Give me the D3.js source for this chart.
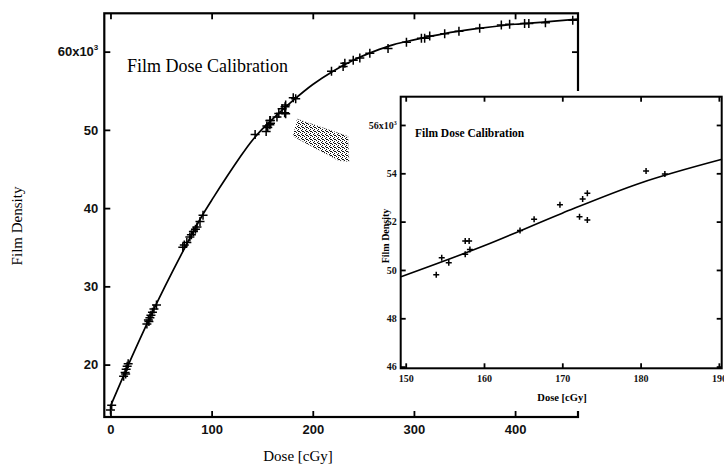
<!DOCTYPE html>
<html>
<head>
<meta charset="utf-8">
<script src="https://cdn.jsdelivr.net/npm/d3@7"></script>
<style>
  body { margin: 0; background: #fff; }
  svg  { display: block; }
</style>
</head>
<body>
<div id="chart"></div>
<script>

var doseValues = [0, 1.2,
                  13, 14.5, 15.5, 16.5, 17.5, 15,
                  36, 37.5, 38, 39, 40, 41.5, 43, 45.5,
                  71.5, 73, 75.5, 78.5, 80, 82, 84, 85.5, 88.5, 91.5,
                  143, 153.9, 154.6, 155.5, 157.6, 157.6, 158.1, 158.2, 164.6, 166.4,
                  169.7, 172.2, 173.2, 172.6, 173.2, 180.7, 183.1,
                  218.5, 230, 231.7, 240, 246.5, 256.4, 274.4, 292.6, 307.4, 310.6,
                  315.6, 330.4, 344.5, 365, 386.4, 394.6, 409.4, 413.6, 430, 457];
var densityValues = [14.2, 14.8,
                     18.5, 19.0, 19.4, 19.8, 20.1, 18.8,
                     25.2, 25.7, 25.5, 26.0, 26.3, 26.7, 27.1, 27.6,
                     35.0, 35.3, 35.6, 36.3, 36.6, 37.0, 37.3, 37.6, 38.3, 39.1,
                     49.4, 49.8, 50.5, 50.3, 50.65, 51.2, 51.2, 50.85, 51.63, 52.1,
                     52.7, 52.2, 52.07, 52.94, 53.17, 54.1, 53.97,
                     57.5, 58.1, 58.5, 58.9, 59.2, 59.8, 60.4, 61.2, 61.7, 61.7,
                     62.0, 62.3, 62.6, 63.0, 63.4, 63.5, 63.6, 63.6, 63.7, 64.0];

// Calibration curve, knots
var fitDose    = [0, 15, 40, 75, 90, 102, 115, 128, 138, 150, 160, 170, 180, 200,
                  220, 240, 260, 280, 300, 330, 360, 400, 430, 462];
var fitDensity = [14.7, 19.2, 26.3, 35.3, 38.9, 41.4, 44.0, 46.5, 48.3, 50.1, 51.35, 52.55, 53.7, 55.8,
                  57.5, 58.9, 60.0, 60.9, 61.5, 62.3, 62.9, 63.5, 63.8, 64.15];

// Inset: close up of 150-190 cGy
var insetDose    = [153.9, 154.6, 155.5, 157.6, 157.6, 158.1, 158.2, 164.6, 166.4,
                    169.7, 172.2, 173.2, 172.6, 173.2, 180.7, 183.1];
var insetDensity = [49.8, 50.5, 50.3, 50.65, 51.2, 51.2, 50.85, 51.63, 52.1,
                    52.7, 52.2, 52.07, 52.94, 53.17, 54.1, 53.97];
var insetFitDose    = [149.4, 160, 170, 180, 190.4];
var insetFitDensity = [49.72, 51.0, 52.35, 53.6, 54.58];

// Tick values
var xTicks      = [0, 100, 200, 300, 400];
var yTicks      = [20, 30, 40, 50, 60];
var insetXTicks = [150, 160, 170, 180, 190];
var insetYTicks = [46, 48, 50, 52, 54, 56];

// Grey dithered arrow pointing at the inset, in main-chart data units
var arrowDose    = [184.4, 234.8, 235.8, 225, 180.4];
var arrowDensity = [51.38, 49.2, 45.95, 46.1, 49.2];

var width  = 724,
    height = 465;

var svg = d3.select("#chart")
  .append("svg")
    .attr("width", width)
    .attr("height", height);

svg.append("rect")
    .attr("width", width)
    .attr("height", height)
    .attr("fill", "#fff");

// dither pattern for the arrow
var pat = svg.append("defs")
  .append("pattern")
    .attr("id", "dither")
    .attr("width", 4)
    .attr("height", 4)
    .attr("patternUnits", "userSpaceOnUse");
[[0, 0], [2, 1], [1, 2], [3, 3], [2, 3]].forEach(function(p) {
  pat.append("rect").attr("x", p[0]).attr("y", p[1]).attr("width", 1).attr("height", 1).attr("fill", "#111");
});

var serif = "'Liberation Serif', 'Times New Roman', serif",
    sans  = "'Liberation Sans', Arial, sans-serif";

// helper: "+" markers
function crosses(g, data, x, y, arm, sw) {
  g.selectAll("path.pt")
    .data(data)
    .enter()
    .append("path")
      .attr("class", "pt")
      .attr("d", function(d) {
        var cx = x(d[0]), cy = y(d[1]);
        return "M" + (cx - arm) + "," + cy + "H" + (cx + arm) + "M" + cx + "," + (cy - arm) + "V" + (cy + arm);
      })
      .attr("stroke", "#000")
      .attr("stroke-width", sw)
      .attr("fill", "none");
}

// helper: label with a superscript exponent
function exponent(sel, base, supSize, dy) {
  sel.text(base);
  sel.append("tspan").attr("dy", dy).attr("font-size", supSize).text("3");
}

/*** Main chart ***/
var x = d3.scaleLinear().domain([-6.1, 462.2]).range([104.3, 578]);
var y = d3.scaleLinear().domain([13.3, 64.9]).range([417, 13.3]);

var main = svg.append("g").attr("class", "main");

// fit line
var fitLine = d3.line()
  .x(function(d) { return x(d[0]); })
  .y(function(d) { return y(d[1]); })
  .curve(d3.curveMonotoneX);

main.append("path")
    .datum(d3.zip(fitDose, fitDensity))
    .attr("d", fitLine)
    .attr("fill", "none")
    .attr("stroke", "#000")
    .attr("stroke-width", 1.7);

crosses(main, d3.zip(doseValues, densityValues), x, y, 4.5, 1.5);

// arrow
main.append("path")
    .datum(d3.zip(arrowDose, arrowDensity))
    .attr("d", d3.line().x(function(d) { return x(d[0]); }).y(function(d) { return y(d[1]); }))
    .attr("fill", "url(#dither)")
    .attr("stroke", "#444")
    .attr("stroke-width", 0.6)
    .attr("stroke-dasharray", "1,2");

// axes (ticks point inward)
function styleAxis(g, size, family) {
  g.select(".domain").remove();
  g.selectAll(".tick line").attr("stroke", "#000").attr("stroke-width", 1.8);
  g.selectAll(".tick text").attr("font-family", family).attr("font-size", size)
    .attr("font-weight", "bold").attr("fill", "#111");
}

main.append("g")
    .attr("transform", "translate(0," + y.range()[0] + ")")
    .call(d3.axisBottom(x).tickValues(xTicks).tickSize(-6).tickPadding(8))
    .call(styleAxis, 13, sans);
main.append("g")
    .attr("transform", "translate(0," + y.range()[1] + ")")
    .call(d3.axisTop(x).tickValues(xTicks).tickSize(-6).tickFormat(""))
    .call(styleAxis, 13, sans);
main.append("g")
    .attr("transform", "translate(" + x.range()[0] + ",0)")
    .call(d3.axisLeft(y).tickValues(yTicks).tickSize(-6).tickPadding(6))
    .call(styleAxis, 13, sans)
    .selectAll(".tick text")
    .each(function(d) { if (d === 60) exponent(d3.select(this), "60x10", 8, -6); });
main.append("g")
    .attr("transform", "translate(" + x.range()[1] + ",0)")
    .call(d3.axisRight(y).tickValues(yTicks).tickSize(-6).tickFormat(""))
    .call(styleAxis, 13, sans);

// frame
main.append("rect")
    .attr("x", x.range()[0])
    .attr("y", y.range()[1])
    .attr("width", x.range()[1] - x.range()[0])
    .attr("height", y.range()[0] - y.range()[1])
    .attr("fill", "none")
    .attr("stroke", "#000")
    .attr("stroke-width", 2.2);

main.append("text")
    .attr("x", 127)
    .attr("y", 72)
    .attr("font-family", serif)
    .attr("font-size", 18)
    .text("Film Dose Calibration");

main.append("text")
    .attr("x", 298)
    .attr("y", 461)
    .attr("text-anchor", "middle")
    .attr("font-family", serif)
    .attr("font-size", 15)
    .text("Dose [cGy]");

main.append("text")
    .attr("transform", "translate(22,226) rotate(-90)")
    .attr("text-anchor", "middle")
    .attr("font-family", serif)
    .attr("font-size", 15)
    .text("Film Density");

/*** Inset chart ***/
var ix = d3.scaleLinear().domain([149.36, 190.36]).range([400.7, 721.7]);
var iy = d3.scaleLinear().domain([45.93, 57.17]).range([368.3, 96.7]);

var inset = svg.append("g").attr("class", "inset");

// pasted figure covers the main frame
inset.append("rect")
    .attr("x", 357)
    .attr("y", 91)
    .attr("width", width - 357)
    .attr("height", 320)
    .attr("fill", "#fff");

inset.append("path")
    .datum(d3.zip(insetFitDose, insetFitDensity))
    .attr("d", d3.line()
      .x(function(d) { return ix(d[0]); })
      .y(function(d) { return iy(d[1]); })
      .curve(d3.curveMonotoneX))
    .attr("fill", "none")
    .attr("stroke", "#000")
    .attr("stroke-width", 1.6);

crosses(inset, d3.zip(insetDose, insetDensity), ix, iy, 3, 1.5);

inset.append("g")
    .attr("transform", "translate(0," + iy.range()[0] + ")")
    .call(d3.axisBottom(ix).tickValues(insetXTicks).tickSize(-5).tickPadding(7))
    .call(styleAxis, 10, serif);
inset.append("g")
    .attr("transform", "translate(0," + iy.range()[1] + ")")
    .call(d3.axisTop(ix).tickValues(insetXTicks).tickSize(-5).tickFormat(""))
    .call(styleAxis, 10, serif);
inset.append("g")
    .attr("transform", "translate(" + ix.range()[0] + ",0)")
    .call(d3.axisLeft(iy).tickValues(insetYTicks).tickSize(-5).tickPadding(4))
    .call(styleAxis, 10, serif)
    .selectAll(".tick text")
    .each(function(d) { if (d === 56) exponent(d3.select(this), "56x10", 6, -4); });
inset.append("g")
    .attr("transform", "translate(" + ix.range()[1] + ",0)")
    .call(d3.axisRight(iy).tickValues(insetYTicks).tickSize(-5).tickFormat(""))
    .call(styleAxis, 10, serif);

inset.append("rect")
    .attr("x", ix.range()[0])
    .attr("y", iy.range()[1])
    .attr("width", ix.range()[1] - ix.range()[0])
    .attr("height", iy.range()[0] - iy.range()[1])
    .attr("fill", "none")
    .attr("stroke", "#000")
    .attr("stroke-width", 2);

inset.append("text")
    .attr("x", 415)
    .attr("y", 137)
    .attr("font-family", serif)
    .attr("font-size", 11.5)
    .attr("font-weight", "bold")
    .text("Film Dose Calibration");

inset.append("text")
    .attr("x", 562)
    .attr("y", 401)
    .attr("text-anchor", "middle")
    .attr("font-family", serif)
    .attr("font-size", 10.5)
    .attr("font-weight", "bold")
    .text("Dose [cGy]");

inset.append("text")
    .attr("transform", "translate(389,236) rotate(-90)")
    .attr("text-anchor", "middle")
    .attr("font-family", serif)
    .attr("font-size", 10)
    .attr("font-weight", "bold")
    .text("Film Density");

</script>
</body>
</html>
